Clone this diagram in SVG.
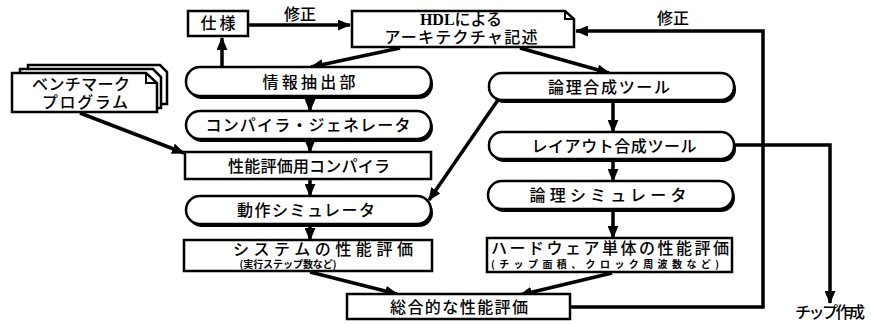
<svg xmlns="http://www.w3.org/2000/svg" width="871" height="325" viewBox="0 0 871 325">
<defs>
<style>
.bx{fill:#fff;stroke:#000;stroke-width:2.5}
.sh{fill:#000}
.t{font-family:"Noto Sans CJK JP","Noto Sans",sans-serif;font-size:16px;fill:#000;text-anchor:middle;font-weight:500}
.s{font-size:10px;font-weight:bold}
.c{fill:none;stroke:#000;stroke-width:3.5}
</style>
<marker id="ah" viewBox="0 0 12 10" refX="11" refY="5" markerWidth="13" markerHeight="11" orient="auto" markerUnits="userSpaceOnUse"><path d="M0,0 L12,5 L0,10 Z"/></marker>
</defs>
<rect width="871" height="325" fill="#fff"/>

<g id="connectors">
<line class="c" x1="248" y1="25" x2="350" y2="25" marker-end="url(#ah)"/>
<line class="c" x1="222" y1="67" x2="222" y2="38" marker-end="url(#ah)"/>
<line class="c" x1="400" y1="48" x2="311" y2="67" marker-end="url(#ah)"/>
<line class="c" x1="520" y1="48" x2="609" y2="73" marker-end="url(#ah)"/>
<line class="c" x1="310" y1="97" x2="310" y2="111" marker-end="url(#ah)"/>
<line class="c" x1="310" y1="141" x2="310" y2="152" marker-end="url(#ah)"/>
<line class="c" x1="80" y1="113" x2="184" y2="153" marker-end="url(#ah)"/>
<line class="c" x1="310" y1="180" x2="310" y2="196" marker-end="url(#ah)"/>
<line class="c" x1="500" y1="97" x2="429" y2="200" marker-end="url(#ah)"/>
<line class="c" x1="310" y1="226" x2="310" y2="240" marker-end="url(#ah)"/>
<line class="c" x1="310" y1="272" x2="397" y2="294" marker-end="url(#ah)"/>
<line class="c" x1="613" y1="101" x2="613" y2="132" marker-end="url(#ah)"/>
<line class="c" x1="613" y1="161" x2="613" y2="181" marker-end="url(#ah)"/>
<line class="c" x1="613" y1="211" x2="613" y2="238" marker-end="url(#ah)"/>
<line class="c" x1="612" y1="273" x2="520" y2="295" marker-end="url(#ah)"/>
<polyline class="c" points="570,307 763,307 763,31 576,31" marker-end="url(#ah)"/>
<polyline class="c" points="735,145 830,145 830,303" marker-end="url(#ah)"/>
<text class="t" x="300" y="20">修正</text>
<text class="t" x="673" y="24">修正</text>
</g>

<g id="spec">
<rect class="bx" x="188" y="11" width="60" height="25"/>
<text class="t" x="218" y="29" textLength="35">仕様</text>
</g>

<g id="hdl">
<path class="bx" d="M352,11 H565 L574,19 V47 H352 Z"/>
<path d="M565,11 V19 H574" fill="none" stroke="#000" stroke-width="2"/>
<text class="t" x="461" y="25" font-size="15"><tspan font-family="'Liberation Serif',serif" font-weight="bold">HDL</tspan>による</text>
<text class="t" x="461" y="43" font-size="15" textLength="153">アーキテクチャ記述</text>
</g>

<g id="bench">
<path class="bx" d="M28,65 H160 L167,72 V104 H28 Z" stroke-width="2"/>
<path class="bx" d="M20,69 H153 L161,77 V108 H20 Z" stroke-width="2"/>
<path class="bx" d="M12,73 H146 L157,83 V112 H12 Z"/>
<path d="M146,73 V83 H157" fill="none" stroke="#000" stroke-width="2"/>
<text class="t" x="81" y="90" font-size="14" textLength="98">ベンチマーク</text>
<text class="t" x="85" y="108" font-size="14" textLength="86">プログラム</text>
</g>

<g id="extract">
<rect class="sh" x="188" y="70" width="245" height="29" rx="14"/>
<rect class="bx" x="186" y="67" width="245" height="29" rx="14"/>
<text class="t" x="309" y="88" textLength="93">情報抽出部</text>
</g>

<g id="compgen">
<rect class="sh" x="188" y="114" width="245" height="28" rx="14"/>
<rect class="bx" x="186" y="111" width="245" height="28" rx="14"/>
<text class="t" x="308" y="131" textLength="205">コンパイラ・ジェネレータ</text>
</g>

<g id="perfcomp">
<rect class="bx" x="185" y="152" width="246" height="27"/>
<text class="t" x="309" y="172" textLength="162">性能評価用コンパイラ</text>
</g>

<g id="behsim">
<rect class="sh" x="188" y="199" width="245" height="28" rx="14"/>
<rect class="bx" x="186" y="196" width="245" height="28" rx="14"/>
<text class="t" x="306" y="216" textLength="138">動作シミュレータ</text>
</g>

<g id="syseval">
<rect class="bx" x="184" y="240" width="248" height="31"/>
<text class="t" x="323" y="255" textLength="180">システムの性能評価</text>
<text class="t s" x="288" y="268" textLength="97">(実行ステップ数など)</text>
</g>

<g id="total">
<rect class="bx" x="347" y="294" width="223" height="25"/>
<text class="t" x="459" y="313" textLength="138">総合的な性能評価</text>
</g>

<g id="logicsyn">
<rect class="sh" x="491" y="76" width="245" height="27" rx="13"/>
<rect class="bx" x="489" y="73" width="245" height="27" rx="13"/>
<text class="t" x="609" y="93" textLength="122">論理合成ツール</text>
</g>

<g id="layout">
<rect class="sh" x="491" y="135" width="245" height="27" rx="13"/>
<rect class="bx" x="489" y="132" width="245" height="27" rx="13"/>
<text class="t" x="614" y="152" textLength="165">レイアウト合成ツール</text>
</g>

<g id="logicsim">
<rect class="sh" x="490" y="184" width="245" height="28" rx="14"/>
<rect class="bx" x="488" y="181" width="245" height="28" rx="14"/>
<text class="t" x="608" y="201" textLength="157">論理シミュレータ</text>
</g>

<g id="hweval">
<rect class="bx" x="487" y="238" width="245" height="34"/>
<text class="t" x="610" y="254" textLength="238">ハードウェア単体の性能評価</text>
<text class="t s" x="605" y="268" textLength="228">(チップ面積、クロック周波数など)</text>
</g>

<g id="chip">
<text class="t" x="830" y="318" font-size="15" textLength="70">チップ作成</text>
</g>
</svg>
